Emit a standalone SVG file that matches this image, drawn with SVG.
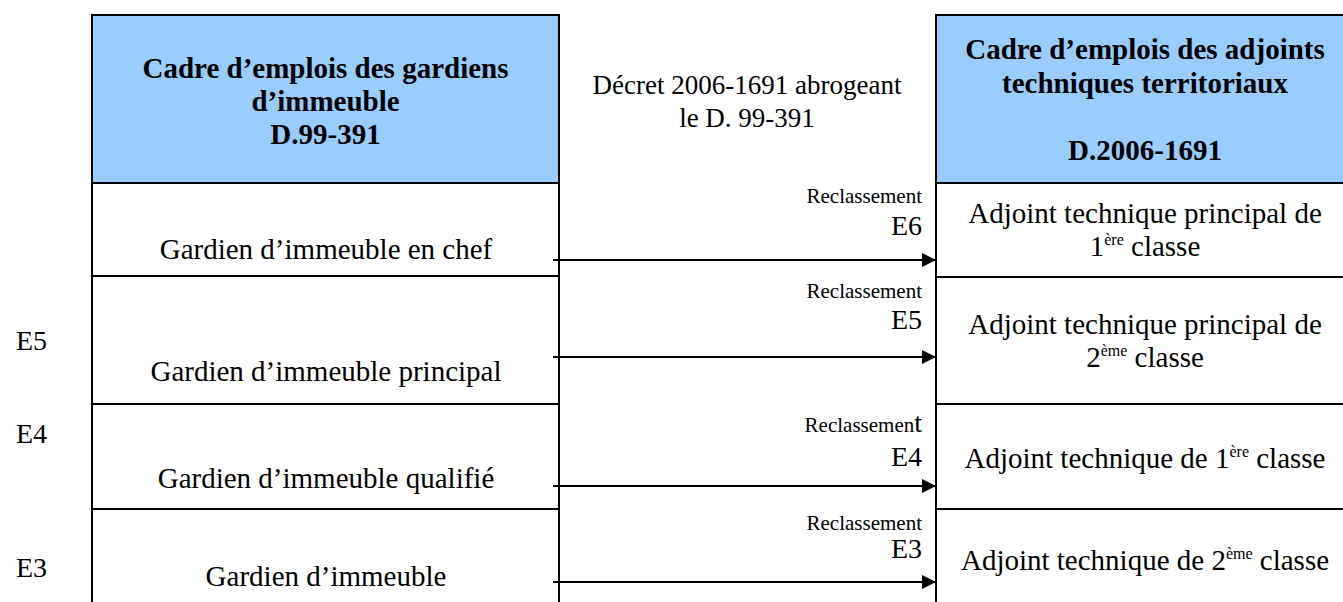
<svg xmlns="http://www.w3.org/2000/svg" width="1343" height="602" viewBox="0 0 1343 602">
<style>
text{font-family:"Liberation Serif","Times New Roman",serif;fill:#000}
.h{font-size:29px;font-weight:bold;text-anchor:middle}
.b{font-size:29px;text-anchor:middle}
.m{font-size:27px;text-anchor:middle}
.e{font-size:28px}
.r{font-size:21px;text-anchor:end}
.er{font-size:28px;text-anchor:end}
.sup{font-size:16px}
.cell{fill:#fff;stroke:#000;stroke-width:2}
.head{fill:#99CCFF;stroke:#000;stroke-width:2}
.conn{stroke:#000;stroke-width:2;fill:none}
</style>
<defs>
<marker id="arr" markerUnits="userSpaceOnUse" markerWidth="15" markerHeight="15" refX="14" refY="7" orient="auto">
<path d="M0,0 L14,7 L0,14 z" fill="#000"/>
</marker>
</defs>
<rect width="1343" height="602" fill="#fff"/>

<g id="left-header">
<rect class="head" x="92" y="15" width="467" height="168"/>
<text class="h" x="325.5" y="78">Cadre d’emplois des gardiens</text>
<text class="h" x="325.5" y="111">d’immeuble</text>
<text class="h" x="325.5" y="144">D.99-391</text>
</g>
<g id="left-row1">
<rect class="cell" x="92" y="183" width="467" height="93"/>
<text class="b" x="326" y="259">Gardien d’immeuble en chef</text>
</g>
<g id="left-row2">
<rect class="cell" x="92" y="276" width="467" height="128"/>
<text class="b" x="326" y="381">Gardien d’immeuble principal</text>
</g>
<g id="left-row3">
<rect class="cell" x="92" y="404" width="467" height="105"/>
<text class="b" x="326" y="488">Gardien d’immeuble qualifié</text>
</g>
<g id="left-row4">
<rect class="cell" x="92" y="509" width="467" height="110"/>
<text class="b" x="326" y="586">Gardien d’immeuble</text>
</g>

<g id="decret">
<text class="m" x="747" y="94">Décret 2006-1691 abrogeant</text>
<text class="m" x="747" y="127">le D. 99-391</text>
</g>

<g id="right-header">
<rect class="head" x="936" y="15" width="430" height="168"/>
<text class="h" x="1145" y="59">Cadre d’emplois des adjoints</text>
<text class="h" x="1145" y="92.5">techniques territoriaux</text>
<text class="h" x="1145" y="160">D.2006-1691</text>
</g>
<g id="right-row1">
<rect class="cell" x="936" y="183" width="430" height="94"/>
<text class="b" x="1145" y="223">Adjoint technique principal de</text>
<text class="b" x="1145" y="256">1<tspan class="sup" dy="-11">ère</tspan><tspan dy="11"> classe</tspan></text>
</g>
<g id="right-row2">
<rect class="cell" x="936" y="277" width="430" height="127"/>
<text class="b" x="1145" y="334">Adjoint technique principal de</text>
<text class="b" x="1145" y="367">2<tspan class="sup" dy="-11">ème</tspan><tspan dy="11"> classe</tspan></text>
</g>
<g id="right-row3">
<rect class="cell" x="936" y="404" width="430" height="105"/>
<text class="b" x="1145" y="468">Adjoint technique de 1<tspan class="sup" dy="-11">ère</tspan><tspan dy="11"> classe</tspan></text>
</g>
<g id="right-row4">
<rect class="cell" x="936" y="509" width="430" height="110"/>
<text class="b" x="1145" y="570">Adjoint technique de 2<tspan class="sup" dy="-11">ème</tspan><tspan dy="11"> classe</tspan></text>
</g>

<g id="echelons-left">
<text class="e" x="16" y="350">E5</text>
<text class="e" x="16" y="443">E4</text>
<text class="e" x="16" y="577">E3</text>
</g>

<g id="labels-reclassement">
<text class="r" x="922" y="203">Reclassement</text>
<text class="er" x="922" y="235">E6</text>
<text class="r" x="922" y="298">Reclassement</text>
<text class="er" x="922" y="329">E5</text>
<text class="r" x="922" y="432">Reclassemen<tspan style="font-size:28px">t</tspan></text>
<text class="er" x="922" y="466">E4</text>
<text class="r" x="922" y="530">Reclassement</text>
<text class="er" x="922" y="558">E3</text>
</g>

<g id="connectors">
<line class="conn" x1="553" y1="260" x2="936" y2="260" marker-end="url(#arr)"/>
<line class="conn" x1="553" y1="357" x2="936" y2="357" marker-end="url(#arr)"/>
<line class="conn" x1="553" y1="486" x2="936" y2="486" marker-end="url(#arr)"/>
<line class="conn" x1="553" y1="582" x2="936" y2="582" marker-end="url(#arr)"/>
</g>
</svg>
